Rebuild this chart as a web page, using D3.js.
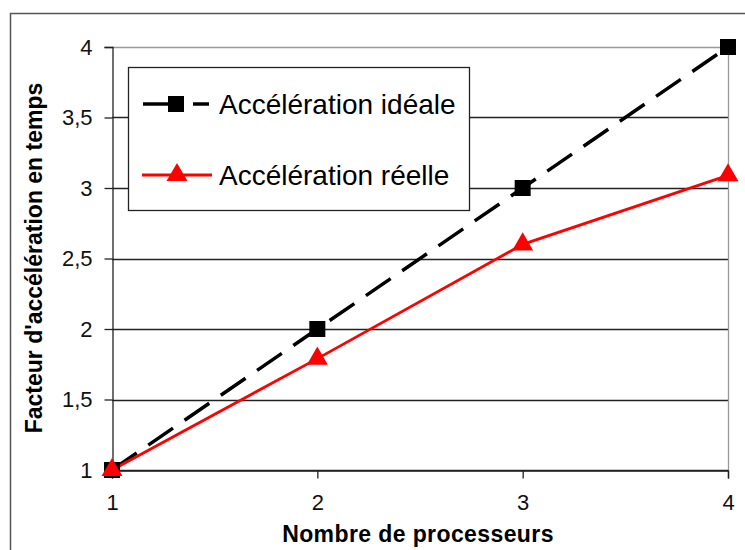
<!DOCTYPE html>
<html><head><meta charset="utf-8">
<script src="https://cdn.jsdelivr.net/npm/d3@7"></script>
<style>body{margin:0;background:#fff}svg{display:block;font-family:"Liberation Sans",Arial,sans-serif}</style>
</head><body>
<svg id="c" width="745" height="550"></svg>
<script>
const processors = [1, 2, 3, 4];
const idealValues = [1, 2, 3, 4];
const realValues = [1, 1.79, 2.6, 3.09];
const yTicks = [1, 1.5, 2, 2.5, 3, 3.5, 4];
const xTicks = [1, 2, 3, 4];
const seriesNames = ["Accélération idéale", "Accélération réelle"];
const xTitle = "Nombre de processeurs";
const yTitle = "Facteur d'accélération en temps";

const svg = d3.select("#c");
const fmt = v => String(v).replace(".", ",");

// outer frame
svg.append("rect").attr("x", 10.5).attr("y", 13.5).attr("width", 760).attr("height", 560)
  .attr("fill", "#fff").attr("stroke", "#555").attr("stroke-width", 1.5);

const x = d3.scaleLinear().domain([1, 4]).range([112, 728]);
const y = d3.scaleLinear().domain([1, 4]).range([470, 47]);

// gridlines
svg.append("g").selectAll("line").data(yTicks).join("line")
  .attr("x1", x(1)).attr("x2", x(4))
  .attr("y1", d => Math.round(y(d)) + 0.5).attr("y2", d => Math.round(y(d)) + 0.5)
  .attr("stroke", d => d === 4 ? "#999" : "#222").attr("stroke-width", 1.3);
// right border
svg.append("line").attr("x1", x(4) + 0.5).attr("x2", x(4) + 0.5).attr("y1", y(4)).attr("y2", y(1))
  .attr("stroke", "#999").attr("stroke-width", 1.3);

// y axis
const yAxis = svg.append("g").attr("transform", `translate(${x(1) + 0.5},0)`)
  .call(d3.axisLeft(y).tickValues(yTicks).tickFormat(fmt).tickSize(8).tickPadding(12));
yAxis.attr("font-size", 22);
yAxis.select(".domain").attr("stroke", "#222").attr("stroke-width", 1.3);
yAxis.selectAll(".tick line").attr("stroke", "#222").attr("stroke-width", 1.3);
yAxis.selectAll("text").attr("font-size", 22).attr("fill", "#111")
  .attr("font-family", "Liberation Sans, Arial, sans-serif");

// x axis
const xAxis = svg.append("g").attr("transform", `translate(0,${Math.round(y(1)) + 0.5})`)
  .call(d3.axisBottom(x).tickValues(xTicks).tickFormat(fmt).tickSize(8).tickPadding(16));
xAxis.attr("font-size", 22);
xAxis.select(".domain").attr("stroke", "#222").attr("stroke-width", 1.3);
xAxis.selectAll(".tick line").attr("stroke", "#222").attr("stroke-width", 1.3);
xAxis.selectAll("text").attr("font-size", 22).attr("fill", "#111")
  .attr("font-family", "Liberation Sans, Arial, sans-serif");

// titles
svg.append("text").attr("x", 418).attr("y", 542).attr("text-anchor", "middle")
  .attr("font-size", 23).attr("font-weight", "bold").attr("letter-spacing", 0.4).text(xTitle);
svg.append("text").attr("transform", "translate(42,258) rotate(-90)").attr("text-anchor", "middle")
  .attr("font-size", 23).attr("font-weight", "bold").text(yTitle);

const line = d3.line().x((d, i) => x(processors[i])).y(d => y(d));

// ideal series
svg.append("path").datum(idealValues).attr("d", line).attr("fill", "none")
  .attr("stroke", "#000").attr("stroke-width", 3.5).attr("stroke-dasharray", "30,14");
// real series
svg.append("path").datum(realValues).attr("d", line).attr("fill", "none")
  .attr("stroke", "#ff0000").attr("stroke-width", 2.8);

const sq = 16, tri = d3.symbol().type(d3.symbolTriangle).size(190);
svg.append("g").selectAll("rect").data(idealValues).join("rect")
  .attr("x", (d, i) => x(processors[i]) - sq / 2).attr("y", d => y(d) - sq / 2)
  .attr("width", sq).attr("height", sq).attr("fill", "#000");
svg.append("g").selectAll("path").data(realValues).join("path")
  .attr("transform", (d, i) => `translate(${x(processors[i])},${y(d)})`)
  .attr("d", tri).attr("fill", "#ff0000");

// legend
const lg = svg.append("g");
lg.append("rect").attr("x", 128.5).attr("y", 67.5).attr("width", 341).attr("height", 143)
  .attr("fill", "#fff").attr("stroke", "#222").attr("stroke-width", 1.3);
const ly = [104, 175];
lg.append("line").attr("x1", 143).attr("x2", 176).attr("y1", ly[0]).attr("y2", ly[0]).attr("stroke", "#000").attr("stroke-width", 3.5);
lg.append("line").attr("x1", 193).attr("x2", 209).attr("y1", ly[0]).attr("y2", ly[0]).attr("stroke", "#000").attr("stroke-width", 3.5);
lg.append("rect").attr("x", 168).attr("y", ly[0] - 8).attr("width", sq).attr("height", sq).attr("fill", "#000");
lg.append("line").attr("x1", 142).attr("x2", 212).attr("y1", ly[1]).attr("y2", ly[1]).attr("stroke", "#ff0000").attr("stroke-width", 2.8);
lg.append("path").attr("transform", `translate(177,${ly[1]})`).attr("d", tri).attr("fill", "#ff0000");
lg.selectAll("text").data(seriesNames).join("text")
  .attr("x", 219).attr("y", (d, i) => ly[i]).attr("dy", "0.36em")
  .attr("font-size", 28).attr("fill", "#000").text(d => d);
</script>
</body></html>
